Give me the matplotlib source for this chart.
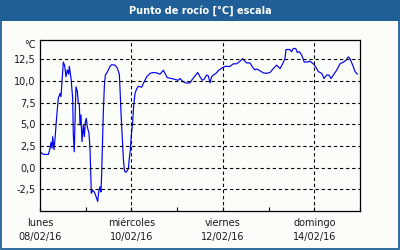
import numpy as np
import matplotlib
matplotlib.use("Agg")
import matplotlib.pyplot as plt
from matplotlib.patches import Rectangle

# hours since 08/02/16 00:00 and dew point values
hours = [0.0, 1.75, 4.4, 5.25, 5.8, 6.3, 6.65, 7.35, 7.9, 8.75, 9.6, 10.5, 11.0, 11.7,
         12.25, 12.95, 13.65, 14.35, 15.05, 15.4, 16.3, 16.6, 17.15, 17.5, 18.0, 18.55,
         18.9, 19.6, 20.1, 20.65, 21.0, 21.5, 22.05, 22.75, 23.3, 23.8, 24.3, 24.85,
         25.7, 26.25, 26.6, 26.95, 27.65, 28.5, 29.05, 29.75, 30.3, 30.8, 31.5, 32.0,
         32.4, 32.9, 33.25, 33.8, 34.3, 35.0, 35.9, 36.75, 37.6, 39.4, 40.6, 41.65,
         42.0, 42.5, 43.2, 43.75, 44.3, 44.8, 45.5, 46.4, 46.9, 47.4, 47.95, 48.65,
         49.2, 49.9, 50.75, 51.6, 53.4, 54.25, 56.0, 57.75, 59.5, 61.25, 63.0, 64.75,
         65.6, 66.85, 69.1, 70.9, 72.6, 73.5, 74.4, 75.25, 77.0, 78.75, 79.6, 81.4,
         82.8, 84.0, 85.2, 86.1, 87.5, 88.4, 89.25, 90.1, 91.0, 92.4, 93.6, 95.4,
         97.1, 99.75, 101.5, 103.25, 105.0, 106.4, 107.6, 108.5, 110.25, 111.6, 112.9,
         113.75, 115.5, 117.25, 119.0, 120.75, 122.5, 124.25, 126.0, 127.4, 128.6,
         129.15, 131.25, 132.1, 133.0, 134.25, 135.1, 136.15, 137.4, 138.75, 140.0,
         141.75, 143.5, 144.9, 146.1, 147.9, 149.1, 150.5, 151.7, 152.8, 154.0,
         155.75, 157.5, 159.25, 160.65, 161.9, 162.75, 164.15, 165.4, 166.6]
dew = [1.84, 1.54, 1.54, 2.23, 2.92, 2.23, 3.57, 2.1, 3.4, 5.88, 8.0, 8.58, 8.2, 10.5,
       12.2, 11.8, 10.5, 11.3, 10.8, 11.7, 10.3, 9.5, 8.0, 3.77, 1.84, 6.85,
       9.34, 8.8, 7.5, 7.3, 4.92, 6.1, 3.0, 4.9, 3.6, 5.3, 5.7, 4.7,
       4.0, 2.23, -0.47, -2.96, -2.6, -2.8, -3.1, -3.54, -3.9, -2.8, -2.2, -2.8,
       -0.5, 3.38, 6.45, 9.5, 10.7, 10.9, 11.3, 11.7, 11.9, 11.85, 11.5, 10.8,
       9.15, 6.45, 3.4, 1.08, -0.3, -0.53, -0.45, -0.1, 1.1, 2.0, 3.8, 5.3,
       7.2, 8.6, 9.1, 9.4, 9.3, 9.73, 10.5, 10.9, 11.0, 10.95, 10.8, 11.26,
       10.9, 10.4, 10.3, 10.2, 10.1, 10.3, 10.1, 9.9, 9.77, 9.8, 10.1, 10.6,
       11.0, 10.5, 10.1, 10.2, 10.7, 10.6, 9.8, 10.5, 10.7, 10.9, 11.2, 11.5,
       11.7, 11.7, 12.0, 12.0, 12.3, 12.6, 12.3, 12.1, 12.1, 11.6, 11.3,
       11.4, 11.2, 10.95, 10.9, 11.0, 11.45, 11.85, 11.45, 12.0, 12.6,
       13.65, 13.65, 13.4, 13.77, 13.77, 13.3, 13.4, 13.0, 12.2, 12.2,
       12.3, 12.0, 11.6, 11.1, 10.9, 10.3, 10.7, 10.7, 10.3, 10.7,
       11.26, 12.0, 12.2, 12.4, 12.8, 12.6, 11.85, 11.1, 10.8]

y_ticks = [-2.5, 0.0, 2.5, 5.0, 7.5, 10.0, 12.5]
y_labels = ["-2,5", "0,0", "2,5", "5,0", "7,5", "10,0", "12,5"]
day_ticks = [0, 24, 48, 72, 96, 120, 144, 168]
label_ticks = [0, 48, 96, 144]
x_labels = ["lunes\n08/02/16", "miércoles\n10/02/16", "viernes\n12/02/16", "domingo\n14/02/16"]

bg = "#fbfdf9"
bar = "#1f5e96"
txt = "#1a1a1a"

fig = plt.figure(figsize=(4, 2.5), dpi=100, facecolor=bg)
ax = fig.add_axes([0.1, 0.156, 0.8, 0.684], facecolor=bg)

ax.plot(hours, dew, color="#0000f0", lw=0.85)

ax.set_xlim(0, 168)
ax.set_ylim(-5, 14.75)

ax.set_yticks(y_ticks)
ax.set_yticklabels(y_labels, fontsize=7, color=txt)
ax.tick_params(axis="y", length=0, pad=3)

ax.set_xticks(day_ticks, minor=True)
ax.set_xticks(label_ticks)
ax.set_xticklabels(x_labels, fontsize=7, color=txt, linespacing=1.5)
ax.tick_params(axis="x", which="both", direction="in", length=3, width=0.8, pad=5)

for v in y_ticks:
    ax.axhline(v, color="black", lw=0.8, ls=(0, (3, 2.5)))
for v in label_ticks[1:]:
    ax.axvline(v, color="black", lw=0.8, ls=(0, (3, 2.5)))

for s in ax.spines.values():
    s.set_linewidth(0.9)
    s.set_color("black")

ax.text(-0.015, 1.0, "°C", transform=ax.transAxes, ha="right", va="top",
        fontsize=7, color=txt)

# title bar and frame
fig.patches.append(Rectangle((0, 0.918), 1, 0.082, transform=fig.transFigure,
                             facecolor=bar, edgecolor="none", zorder=0))
fig.patches.append(Rectangle((0.002, 0.003), 0.996, 0.995, transform=fig.transFigure,
                             facecolor="none", edgecolor=bar, lw=1.3, zorder=5))
fig.text(0.5, 0.959, "Punto de rocío [°C] escala", ha="center", va="center",
         color="white", fontsize=7, fontweight="bold")

fig.savefig("out.png", dpi=100, facecolor=bg)
